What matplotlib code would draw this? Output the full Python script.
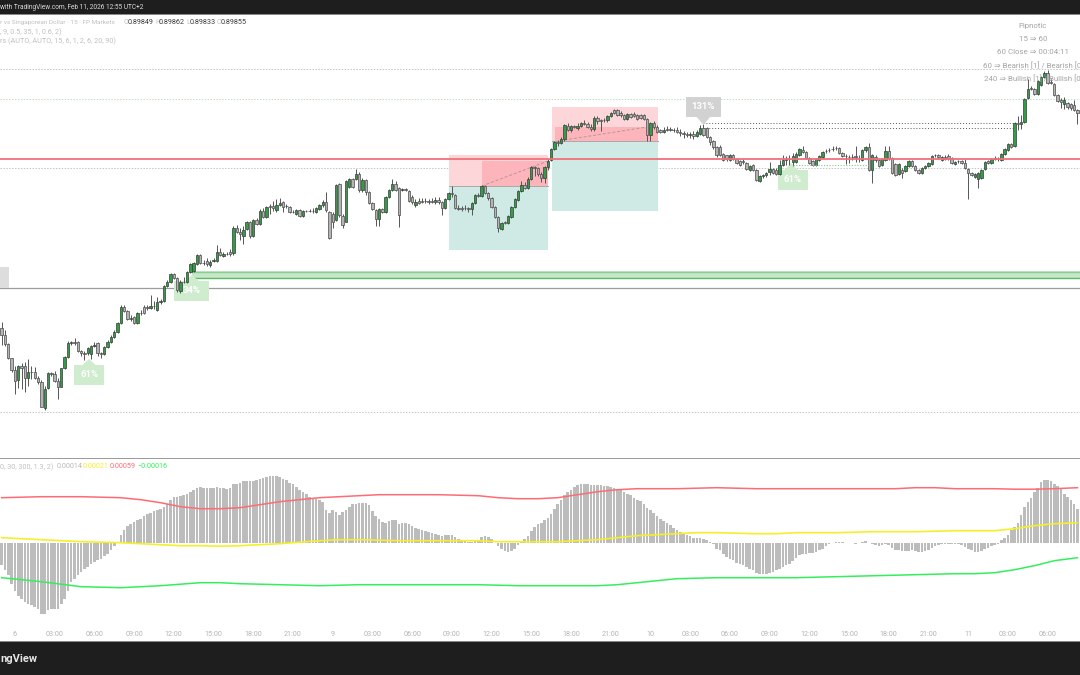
import matplotlib
matplotlib.use('Agg')
import matplotlib.pyplot as plt
from matplotlib.patches import Rectangle, Polygon
import numpy as np

plt.rcParams['font.family'] = ['Roboto', 'DejaVu Sans']

# candles, in points below the top of the price scale (1 point = PT)
PRICE_TOP = 0.90420
PT = 0.00005

opens = [328,335,344,358,370,380,366,366,378,372,
	372,378,382,408,388,373,374,381,387,368,
	357,343,342,342,351,353,353,354,346,343,
	353,354,347,342,337,332,323,307,311,319,
	317,323,313,307,307,308,306,310,302,301,
	286,282,274,278,291,282,282,272,271,264,
	255,263,261,265,261,261,252,256,254,252,
	253,228,232,236,229,222,236,220,224,211,
	217,206,206,210,205,202,206,207,212,214,
	210,216,211,211,211,212,209,205,202,212,
	214,220,184,216,222,187,179,179,174,190,
	180,192,203,210,219,209,212,197,190,184,
	188,190,189,191,197,205,201,201,201,201,
	201,202,200,202,208,199,193,195,208,208,
	208,208,209,203,195,196,186,193,198,207,
	217,229,222,223,217,207,200,191,185,188,
	179,167,168,174,178,167,160,149,142,143,
	139,126,130,126,128,126,123,124,127,129,
	118,120,120,120,116,110,110,113,115,119,
	114,114,115,115,115,119,135,123,127,130,
	132,129,129,130,130,132,133,134,135,134,
	136,134,128,128,137,141,147,147,154,155,
	160,155,159,161,161,163,170,165,170,181,
	176,175,172,169,170,174,165,160,159,162,
	162,155,150,152,158,161,165,160,157,151,
	150,149,148,148,153,156,157,157,156,158,
	160,150,147,170,157,160,165,160,151,158,
	164,174,170,171,166,161,166,170,173,168,
	166,164,155,155,160,157,156,158,164,161,
	161,163,169,173,177,179,178,169,161,163,
	159,159,160,154,150,144,146,123,124,122,
	98,88,89,94,85,77,73,82,84,95,
	100,104,103,104,105,110]
highs = [322,330,343,358,366,365,363,362,359,366,
	367,376,380,386,372,372,371,378,368,356,
	341,341,338,341,350,351,347,345,342,342,
	352,346,340,335,330,322,305,305,310,315,
	316,312,310,305,305,295,301,297,299,285,
	280,273,273,277,280,277,271,263,262,254,
	254,260,258,260,258,245,248,252,252,249,
	226,225,228,226,221,221,219,218,209,208,
	206,204,201,199,198,201,204,206,210,209,
	209,210,210,209,208,207,204,200,192,211,
	212,184,183,214,180,178,178,169,172,178,
	179,191,202,209,208,208,196,189,179,181,
	187,188,188,190,195,199,198,198,198,199,
	198,197,197,201,198,192,186,194,205,206,
	205,207,202,194,193,185,185,192,197,206,
	216,222,221,215,206,198,190,181,182,177,
	166,166,167,172,166,159,148,141,140,137,
	124,123,125,125,123,122,120,122,124,116,
	116,119,118,115,112,109,109,111,114,113,
	113,112,114,114,114,118,122,121,125,129,
	127,126,127,128,127,129,131,132,132,131,
	130,125,124,127,136,140,146,145,153,155,
	154,154,158,160,159,162,165,164,169,175,
	174,172,162,168,168,160,155,156,155,153,
	152,148,146,151,157,160,158,155,151,149,
	148,146,146,147,152,154,155,154,146,155,
	149,146,143,154,155,159,158,146,146,157,
	163,163,168,165,160,160,165,169,167,165,
	162,155,154,154,156,155,154,157,161,160,
	160,159,168,172,173,172,169,161,160,158,
	156,157,153,148,143,143,122,116,115,98,
	79,86,88,80,76,71,70,79,83,94,
	98,97,102,103,100,109]
lows = [345,346,359,372,394,388,389,392,386,379,
	379,384,407,410,389,376,382,399,387,369,
	358,345,345,352,356,360,355,359,347,356,
	358,355,348,343,338,333,324,312,320,321,
	324,324,315,314,310,309,309,311,304,302,
	287,283,279,292,293,283,283,273,272,265,
	264,265,266,267,262,262,256,257,255,256,
	255,233,240,244,230,238,237,225,225,218,
	218,214,211,212,206,212,208,213,213,215,
	217,217,212,212,213,213,210,207,212,239,
	228,221,217,228,222,188,188,180,192,192,
	195,204,210,226,226,213,213,198,191,191,
	227,191,191,202,204,207,204,203,203,204,
	203,204,204,215,209,200,197,209,210,211,
	210,212,215,204,197,197,194,200,208,218,
	232,230,224,224,218,208,201,192,189,189,
	180,176,176,182,183,170,161,150,146,144,
	141,131,132,128,130,127,125,128,131,131,
	124,131,122,122,117,114,116,117,120,120,
	118,117,120,119,120,141,141,129,133,133,
	133,131,131,132,133,136,138,137,138,139,
	137,135,136,138,145,149,157,156,161,161,
	161,160,164,166,164,170,171,171,181,182,
	178,177,175,174,175,175,166,165,165,166,
	163,156,153,159,164,166,166,161,158,153,
	152,151,150,154,157,164,163,160,162,162,
	161,152,171,183,162,167,166,161,160,174,
	176,175,178,172,167,167,171,174,174,169,
	167,165,157,158,161,160,160,164,165,163,
	164,169,199,176,178,188,179,170,164,164,
	160,161,161,155,151,148,147,130,129,123,
	99,90,95,95,86,78,84,84,96,102,
	108,109,109,110,111,124]
closes = [335,344,358,370,381,366,368,378,372,372,
	378,382,407,389,373,374,381,387,368,357,
	343,342,343,351,353,354,348,346,345,353,
	354,347,342,337,332,323,307,311,319,318,
	323,313,313,313,308,306,306,302,301,286,
	282,274,278,290,282,282,272,264,263,255,
	263,263,264,262,260,252,255,254,254,254,
	228,232,234,230,222,236,220,224,211,217,
	207,207,208,205,203,207,206,212,212,210,
	216,211,211,211,211,208,205,202,210,238,
	222,185,215,225,181,179,187,174,190,180,
	192,203,209,219,209,212,197,190,184,190,
	215,189,190,201,202,202,203,202,201,202,
	202,200,202,208,199,193,194,208,209,209,
	208,209,203,195,196,186,193,198,207,217,
	228,223,223,216,207,199,191,185,188,179,
	167,168,174,178,167,161,149,142,143,139,
	125,130,126,127,126,123,124,127,129,118,
	121,121,120,116,113,113,115,115,119,114,
	117,116,119,118,119,135,123,127,132,132,
	130,130,130,130,132,133,134,135,134,136,
	132,128,135,137,142,147,155,155,160,159,
	155,159,163,165,162,169,166,170,180,176,
	175,173,169,173,174,165,160,159,159,156,
	154,149,152,158,163,165,159,156,152,151,
	150,149,148,153,156,156,157,157,157,158,
	150,147,170,155,160,166,159,151,158,173,
	175,164,173,166,161,166,170,173,168,166,
	163,156,155,157,157,159,158,163,162,161,
	163,168,173,175,174,173,170,162,163,159,
	158,159,154,149,144,147,123,124,122,99,
	89,89,94,81,77,73,83,83,95,101,
	102,100,107,108,110,113]

# oscillator histogram, 1 unit = 0.00001
hist = [-22,-27,-32,-41,-48,-53,-56,-59,-61,-62,-64,-66,-71,-71,-67,-66,-66,-66,-61,-56,
	-48,-39,-36,-32,-29,-26,-24,-21,-19,-17,-16,-13,-11,-7,-3,1,8,13,17,19,
	21,23,24,27,29,30,32,33,34,36,39,43,46,46,47,48,49,51,53,55,
	56,55,55,55,55,56,55,55,54,55,59,59,60,62,62,62,62,63,64,65,
	66,67,67,67,66,64,63,60,59,56,53,51,49,46,44,44,43,41,33,30,
	33,31,28,31,33,36,39,39,40,
	40,40,38,32,27,24,21,20,22,23,23,19,20,20,19,17,15,14,13,12,
	11,10,9,8,7,8,8,8,6,4,3,2,1,1,2,3,6,7,6,4,
	0,-3,-6,-8,-9,-8,-6,-2,1,4,7,12,16,19,20,23,25,29,34,39,
	43,48,51,53,56,58,59,59,59,58,58,58,58,57,57,56,55,54,53,51,
	49,48,45,43,42,39,35,33,30,27,24,22,20,18,15,13,11,9,8,7,
	5,5,5,4,3,1,-1,-6,
	-7,-11,-14,-16,-17,-20,-21,-22,-24,-26,-27,-30,-31,-31,-31,-30,-29,-27,-26,-24,
	-22,-21,-18,-15,-12,-11,-11,-10,-10,-9,-7,-6,-3,-1,0,1,1,1,0,0,
	0,-1,0,1,2,0,-1,-2,-3,-2,-1,-2,-5,-7,-7,-8,-8,-8,-7,-8,
	-9,-9,-8,-7,-5,-3,-2,-1,-1,-1,-1,-1,-1,-2,-4,-6,-7,-9,-9,-8,
	-6,-5,-3,-2,-1,3,5,8,13,16,20,28,36,41,45,51,55,61,63,63,
	62,59,57,54,49,46,43,39,34]

# envelope lines, read every 6 bars
band_x = [0,6,12,18,24,30,36,42,48,54,60,66,72,78,84,90,96,102,108,114,120,126,132,138,144,150,156,162,168,174,
	180,186,192,198,204,210,216,222,228,234,240,246,252,258,264,270,276,282,288,294,300,306,312,318,325]
band_upper = [45,45.5,46,46,46,45.5,45,43,40,36,34,34,35,38,41,43,45,46,47,48,48,48,48,47.5,47,45,44,44,45,48,
	51,53,54,54,54,54.5,55,54.5,54,54,54,54,54,54,54,54,55,55,54,54,54,53.5,53.5,54,55]
band_mid = [5,4,3,2,1,.5,0,-1,-2,-3,-3,-3.5,-3,-2,-1,.5,2,3,3,2.5,2,2,2,2,2,1,1,1,1,2,
	3,5,7,8,9,10,10,9.5,9,9,10,10,10,10.5,11,11,11,11.5,12,12,12,14,17,19,20]
band_lower = [-35,-37,-39,-41.5,-44,-44.5,-45,-44,-43,-41.5,-40,-40,-41,-41.5,-42,-42.5,-43,-42.5,-42,-42,-42,-42,-42,-42,-42,-42.5,-43,-43,-43,-43,
	-43,-42,-40,-38,-36,-35.5,-35,-35,-35,-35,-35,-34.5,-34,-33.5,-33,-32.5,-32,-31.5,-31,-31,-30,-27,-23,-18,-15]

time_ticks = [4,16,28,40,52,64,76,88,100,112,124,136,148,160,172,184,196,208,220,232,244,256,268,280,292,304,316]
time_labels = ['6','03:00','06:00','09:00','12:00','15:00','18:00','21:00','9','03:00','06:00','09:00','12:00',
	'15:00','18:00','21:00','10','03:00','06:00','09:00','12:00','15:00','18:00','21:00','11','03:00','06:00']

DARK = '#1e1e1e'
BARS_TO_LEFT = -0.51
BARS_TO_RIGHT = 325.77


def price(pts):
	return PRICE_TOP - np.asarray(pts) * PT


def ftext(x, y, s, **kw):
	# figure text, placed in image pixels
	kw.setdefault('va', 'center')
	kw.setdefault('fontsize', 5.0)
	fig.text(x / 1080, 1 - y / 675, s, **kw)


def trade_box(ax, x0, x1, x2, entry, stop, inner, target):
	ax.add_patch(Rectangle((x0, price(entry)), x2 - x0, price(stop) - price(entry), color='#fdd6d9', lw=0, zorder=1))
	ax.add_patch(Rectangle((x1, price(entry)), x2 - x1, price(inner) - price(entry), color='#fdb4ba', lw=0, zorder=1.1))
	ax.add_patch(Rectangle((x0, price(target)), x2 - x0, price(entry) - price(target), color='#cfeae4', lw=0, zorder=1))
	ax.plot([x0, x2], [price(entry)] * 2, color='#a8a8a8', lw=0.7, zorder=1.2)


def tag(ax, x0, x1, top, bottom, tipx, tipy, s, color, z):
	ax.add_patch(Rectangle((x0, price(bottom)), x1 - x0, price(top) - price(bottom), color=color, lw=0, zorder=z))
	base = top if tipy < top else bottom
	ax.add_patch(Polygon([(tipx - 2, price(base)), (tipx + 2, price(base)), (tipx, price(tipy))], color=color, lw=0, zorder=z))
	ax.text((x0 + x1) / 2, price((top + bottom) / 2), s, color='white', fontsize=6.8, fontweight='bold',
		ha='center', va='center', zorder=z + 0.1)


fig = plt.figure(figsize=(10.8, 6.75), dpi=100, facecolor='white')

# price pane, y 15..458
ax = fig.add_axes([0, 1 - 458 / 675, 1, (458 - 15) / 675])
ax.set_xlim(BARS_TO_LEFT, BARS_TO_RIGHT)
ax.set_ylim(price(458), price(15))
ax.axis('off')

for lvl, col in [(69.5, '#c4c4c4'), (99.5, '#bfe0c4'), (168.5, '#c4c4c4'), (412.5, '#c4c4c4')]:
	ax.axhline(price(lvl), color=col, lw=0.7, ls=(0, (1.5, 1.5)), zorder=0.5)

trade_box(ax, 135.1, 145.1, 165.0, 186, 155, 161, 250)
trade_box(ax, 166.2, 167.2, 198.3, 141.5, 107, 126.7, 211)
ax.plot([145.1, 165.0], price([186, 161]), color='#b09a9a', lw=0.7, ls=(0, (3, 2)), zorder=1.3)
ax.plot([170, 195], price([140, 127]), color='#b09a9a', lw=0.7, ls=(0, (3, 2)), zorder=1.3)

ax.add_patch(Rectangle((57.5, price(278.5)), BARS_TO_RIGHT - 57.5, price(271.5) - price(278.5), color='#c6e7c8', lw=0, zorder=1))
ax.plot([57.5, BARS_TO_RIGHT], price([271.8, 271.8]), color='#8dcf92', lw=1.0, zorder=1.1)
ax.plot([57.5, BARS_TO_RIGHT], price([278.3, 278.3]), color='#5fb868', lw=1.0, zorder=1.1)
ax.axhline(price(288.3), color='#9c9c9c', lw=0.9, zorder=1)
ax.add_patch(Rectangle((BARS_TO_LEFT, price(288)), 2.6, price(267) - price(288), color='#dddddd', lw=0, zorder=1))

tag(ax, 21.9, 31, 365, 385, 26.4, 359, '61%', '#cfeccf', 2)
tag(ax, 52, 62.6, 281, 301, 57.5, 275, '34%', '#cfeccf', 2)
tag(ax, 234.5, 243.6, 170, 190, 238.5, 163, '61%', '#cfeccf', 2)

# candles
n = np.arange(len(closes))
o, h, l, c = np.array(opens), np.array(highs), np.array(lows), np.array(closes)
up = c < o
ax.vlines(n, price(h), price(l), color='#555555', lw=0.7, zorder=3)
ax.bar(n[up], price(c[up]) - price(o[up]), bottom=price(o[up]), width=0.72, color='#2f9e44', edgecolor='#3a3a3a', lw=0.5, zorder=3.2)
ax.bar(n[~up], price(c[~up]) - price(o[~up]), bottom=price(o[~up]), width=0.72, color='#b4b4b4', edgecolor='#4a4a4a', lw=0.5, zorder=3.2)

ax.axhline(price(158.7), color='#f2707a', lw=1.3, zorder=4)
ax.plot([212, 306], price([123.5, 123.5]), color='#555555', lw=0.7, ls=(0, (1, 2)), zorder=4)
ax.plot([212, 306], price([128.5, 128.5]), color='#555555', lw=0.7, ls=(0, (1, 2)), zorder=4)
ax.plot([239, 262], price([165.5, 165.5]), color='#7fcf88', lw=0.8, ls=(0, (1, 1.5)), zorder=4)
tag(ax, 206.7, 217.3, 97, 117, 212, 125, '131%', '#d2d2d2', 5)

# oscillator pane, zero line at y 542.7
ax2 = fig.add_axes([0, 1 - 642 / 675, 1, (642 - 459) / 675])
ax2.set_xlim(BARS_TO_LEFT, BARS_TO_RIGHT)
ax2.set_ylim(-99.3, 83.7)
ax2.axis('off')
ax2.bar(np.arange(len(hist)), hist, width=0.78, color='#bcbcbc', lw=0, zorder=1)
ax2.plot(band_x, band_upper, color='#ff6b74', lw=1.1, zorder=2)
ax2.plot(band_x, band_mid, color='#f5ef2a', lw=1.2, zorder=2)
ax2.plot(band_x, band_lower, color='#33f05a', lw=1.1, zorder=2)
for t, s in zip(time_ticks, time_labels):
	ax2.text(t, -91.5, s, color='#b4b4b4', fontsize=5.2, ha='center', va='center')

# header and footer bars
fig.add_artist(Rectangle((0, 1 - 14 / 675), 1, 14 / 675, transform=fig.transFigure, color=DARK, lw=0))
fig.add_artist(Rectangle((0, 0), 1, 33 / 675, transform=fig.transFigure, color=DARK, lw=0))
fig.add_artist(Rectangle((0, 1 - 15 / 675), 1, 1 / 675, transform=fig.transFigure, color='#8a8a8a', lw=0))
fig.add_artist(Rectangle((0, 1 - 459 / 675), 1, 1 / 675, transform=fig.transFigure, color='#9c9c9c', lw=0))
fig.add_artist(Rectangle((0, 1 - 642 / 675), 1, 1 / 675, transform=fig.transFigure, color='#8a8a8a', lw=0))

ftext(0, 7.5, 'with TradingView.com, Feb 11, 2026 12:55 UTC+2', color='#dcdcdc', fontsize=4.7)
ftext(0, 658.5, 'ngView', color='#e4e4e4', fontsize=8, fontweight='bold')

# legends
ftext(0, 22.5, 'r vs Singaporean Dollar · 15 · FP Markets', color='#c0c0c0', fontsize=4.55)
for x, s in [(123.5, 'O'), (155, 'H'), (186, 'L'), (216.5, 'C')]:
	ftext(x, 22.5, s, color='#c0c0c0')
for x, s in [(128, '0.89849'), (159, '0.89862'), (189.5, '0.89833'), (220.5, '0.89855')]:
	ftext(x, 22.5, s, color='#3a3a3a', fontsize=5.2)
ftext(0, 32, ', 9, 0.5, 35, 1, 0.6, 2)', color='#c0c0c0', fontsize=5.2)
ftext(0, 41, 'rs (AUTO, AUTO, 15, 6, 1, 2, 6, 20, 90)', color='#c0c0c0', fontsize=5.2)
ftext(0, 467, '0, 30, 300, 1.3, 2)', color='#c0c0c0', fontsize=5.2)
ftext(57, 467, '0.00014', color='#b8b8b8', fontsize=5.2)
ftext(83, 467, '0.00021', color='#f5ef2a', fontsize=5.2)
ftext(110, 467, '0.00059', color='#ff6b74', fontsize=5.2)
ftext(137, 467, '−0.00016', color='#33f05a', fontsize=5.2)

# status table top right
for y, s in [(26, 'Pipnotic'), (39, '15 ⇒ 60'), (52, '60 Close ⇒ 00:04:11'),
	(65, '60 ⇒ Bearish [1] / Bearish [0]'), (78, '240 ⇒ Bullish [1] / Bullish [0]')]:
	ftext(1033, y, s, color='#a4a4a4', ha='center', zorder=6, fontsize=5.7)

fig.savefig('out.png', dpi=100, facecolor='white')
